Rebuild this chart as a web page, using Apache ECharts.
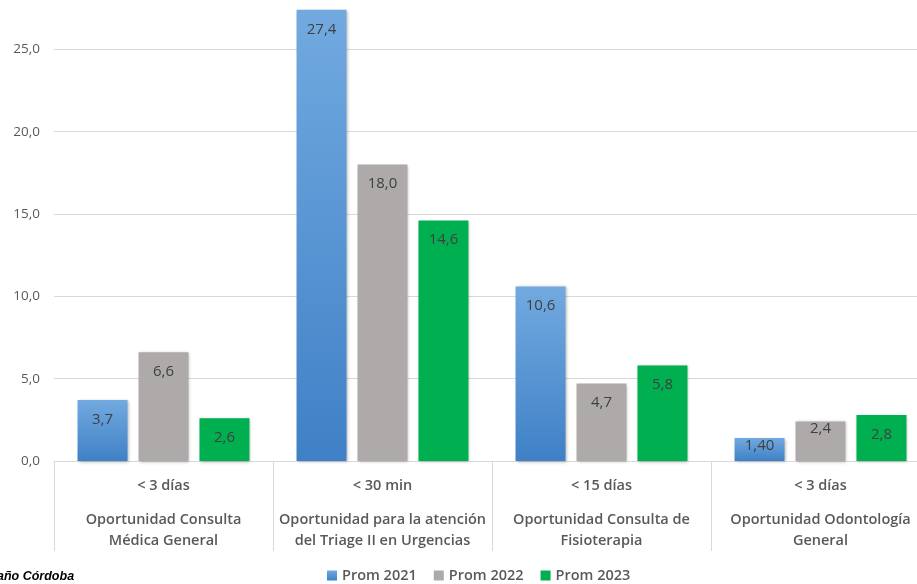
<!DOCTYPE html>
<html><head><meta charset="utf-8">
<script src="https://cdn.jsdelivr.net/npm/echarts@6/dist/echarts.min.js"></script>
<style>html,body{margin:0;padding:0;background:#fff;overflow:hidden;width:917px;height:584px}#c{position:absolute;left:0;top:-33px;width:930px;height:617px}</style>
</head><body><div id="c"></div>
<script>
const limits = ['< 3 días', '< 30 min', '< 15 días', '< 3 días'];
const categories = ['Oportunidad Consulta\nMédica General', 'Oportunidad para la atención\ndel Triage II en Urgencias', 'Oportunidad Consulta de\nFisioterapia', 'Oportunidad Odontología\nGeneral'];
const seriesNames = ['Prom 2021', 'Prom 2022', 'Prom 2023'];
const prom2021 = [3.7, 27.4, 10.6, 1.40];
const prom2022 = [6.6, 18.0, 4.7, 2.4];
const prom2023 = [2.6, 14.6, 5.8, 2.8];
const decimals2021 = [1, 1, 1, 2];
const decimals2022 = [1, 1, 1, 1];
const decimals2023 = [1, 1, 1, 1];
const yTicks = [0, 5, 10, 15, 20, 25];

const FONT = 'Open Sans';
const fmt = (v, d) => v.toFixed(d).replace('.', ',');
function mkData(vals, decs) {
  return vals.map((v, i) => ({
    value: v,
    label: { formatter: fmt(v, decs[i]), distance: v < 2.5 ? 0 : 12 }
  }));
}
const colors = [
  new echarts.graphic.LinearGradient(0, 0, 0, 1, [{offset: 0, color: '#72aae0'}, {offset: 1, color: '#3f80c6'}]),
  '#aeaaaa',
  '#00b050'
];
const allVals = [prom2021, prom2022, prom2023];
const allDecs = [decimals2021, decimals2022, decimals2023];

const chart = echarts.init(document.getElementById('c'));
chart.setOption({
  animation: false,
  grid: { left: 54, right: 0, top: 0, bottom: 123, containLabel: false },
  legend: {
    left: 322, top: 596, itemWidth: 10, itemHeight: 10, itemGap: 17,
    icon: 'rect',
    textStyle: { fontFamily: FONT, fontSize: 14.5, fontWeight: 600, color: '#595959' },
    data: seriesNames
  },
  xAxis: {
    type: 'category',
    data: categories.map((c, i) => limits[i] + '\n' + c),
    axisLine: { lineStyle: { color: '#d9d9d9' } },
    axisTick: { show: true, length: 90, interval: 0, lineStyle: { color: '#d9d9d9' } },
    axisLabel: {
      interval: 0, margin: 1,
      formatter: (v) => {
        const parts = v.split('\n');
        return '{a|' + parts[0] + '}\n' + parts.slice(1).map(p => '{b|' + p + '}').join('\n');
      },
      rich: {
        a: { fontFamily: FONT, fontSize: 14.5, fontWeight: 600, color: '#595959', lineHeight: 47 },
        b: { fontFamily: FONT, fontSize: 14.5, fontWeight: 600, color: '#595959', lineHeight: 21 }
      }
    }
  },
  yAxis: {
    type: 'value', min: 0, max: 30, interval: 5,
    axisLine: { show: false }, axisTick: { show: false },
    splitLine: { lineStyle: { color: '#d9d9d9' } },
    axisLabel: {
      margin: 14, fontFamily: FONT, fontSize: 13.5, color: '#595959',
      formatter: (v) => yTicks.includes(v) ? fmt(v, 1) : ''
    }
  },
  graphic: [{
    type: 'text', left: -3, top: 603,
    style: { text: 'año Córdoba', font: 'italic bold 12.5px Arial', fill: '#000' }
  }],
  series: seriesNames.map((n, k) => ({
    name: n, type: 'bar',
    barGap: '22%', barCategoryGap: '21.5%',
    itemStyle: { color: colors[k], shadowBlur: 3, shadowColor: 'rgba(0,0,0,0.3)', shadowOffsetX: 1, shadowOffsetY: 1 },
    label: { show: true, position: 'insideTop', fontFamily: FONT, fontSize: 15, color: '#404040' },
    data: mkData(allVals[k], allDecs[k])
  }))
});
</script></body></html>
